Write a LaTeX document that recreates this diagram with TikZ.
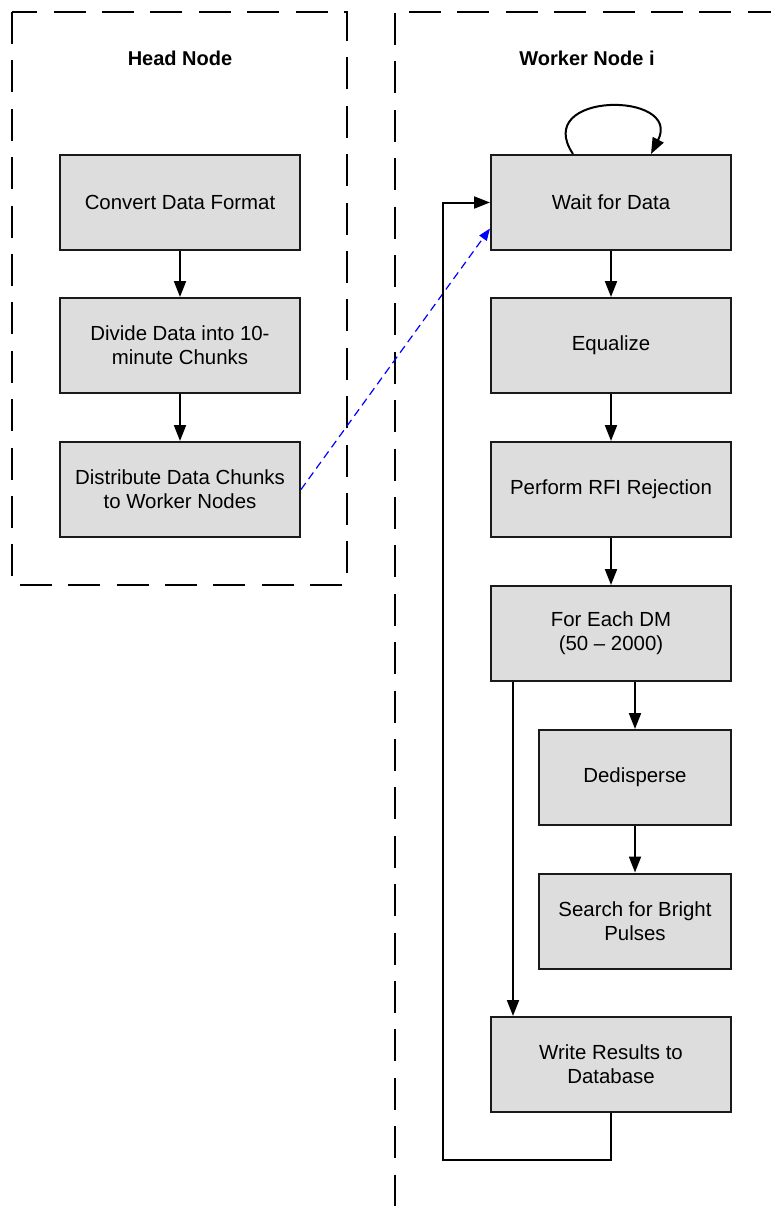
\documentclass[tikz,border=0pt]{standalone}
\usepackage{fontspec}
\setmainfont{Liberation Sans}
\usetikzlibrary{arrows.meta}
\definecolor{boxfill}{HTML}{DDDDDD}
\definecolor{boxline}{HTML}{1A1A1A}
\tikzset{
  px/.style={x=0.5pt,y=-0.5pt},
  procbox/.style={draw=boxline, fill=boxfill, line width=1pt, minimum width=120pt,
    minimum height=47.5pt, align=center, font=\fontsize{10.2pt}{12pt}\selectfont, inner sep=2pt},
  smallbox/.style={procbox, minimum width=96pt},
  frame/.style={line width=1pt, dash pattern=on 16pt off 8.2pt},
  title/.style={font=\fontsize{10pt}{12pt}\selectfont\bfseries},
  arr/.style={line width=1pt, -{Triangle[length=8pt,width=6pt]}},
  bluearr/.style={blue, line width=0.6pt, dash pattern=on 4pt off 2.5pt, -{Triangle[length=6pt,width=4.5pt]}}
}
\begin{document}
\begin{tikzpicture}[px]
\useasboundingbox (0,0) rectangle (771,1206);
% frames
\draw[frame] (12,12) rectangle (347,585);
\begin{scope}
\clip (0,0) rectangle (771,1206);
\draw[frame] (395,13) -- (395,1240);
\draw[frame] (409,12) -- (800,12);
\end{scope}
\node[title] (th) at (180,58) {Head Node};
\node[title] (tw) at (587,58) {Worker Node i};
% head nodes
\node[procbox] (c1) at (180,202.5) {Convert Data Format};
\node[procbox] (c2) at (180,345.5) {Divide Data into 10-\\minute Chunks};
\node[procbox] (c3) at (180,489.5) {Distribute Data Chunks\\to Worker Nodes};
% worker nodes
\node[procbox] (w1) at (611,202.5) {Wait for Data};
\node[procbox] (w2) at (611,345.5) {Equalize};
\node[procbox] (w3) at (611,489.5) {Perform RFI Rejection};
\node[procbox] (w4) at (611,633.5) {For Each DM\\(50 – 2000)};
\node[smallbox] (d1) at (635,777.5) {Dedisperse};
\node[smallbox] (d2) at (635,921) {Search for Bright\\Pulses};
\node[procbox] (w5) at (611,1064.5) {Write Results to\\Database};
% connectors
\draw[arr] (c1) -- (c2);
\draw[arr] (c2) -- (c3);
\draw[bluearr] (c3.east) -- ([yshift=-13pt]w1.west);
\draw[arr] (w1) -- (w2);
\draw[arr] (w2) -- (w3);
\draw[arr] (w3) -- (w4);
\draw[arr] (w4.south -| d1.north) -- (d1.north);
\draw[arr] (d1) -- (d2);
\draw[arr] ([xshift=11.5pt]w4.south west) -- ([xshift=11.5pt]w5.north west);
\coordinate (lp) at (443,1160);
\draw[arr] (w5.south) |- (lp) |- (w1.west);
\draw[arr] ([xshift=-19pt]w1.north) .. controls ([xshift=-40pt,yshift=31.5pt]w1.north) and ([xshift=36pt,yshift=31.5pt]w1.north) .. ([xshift=20pt]w1.north);
\end{tikzpicture}
\end{document}
